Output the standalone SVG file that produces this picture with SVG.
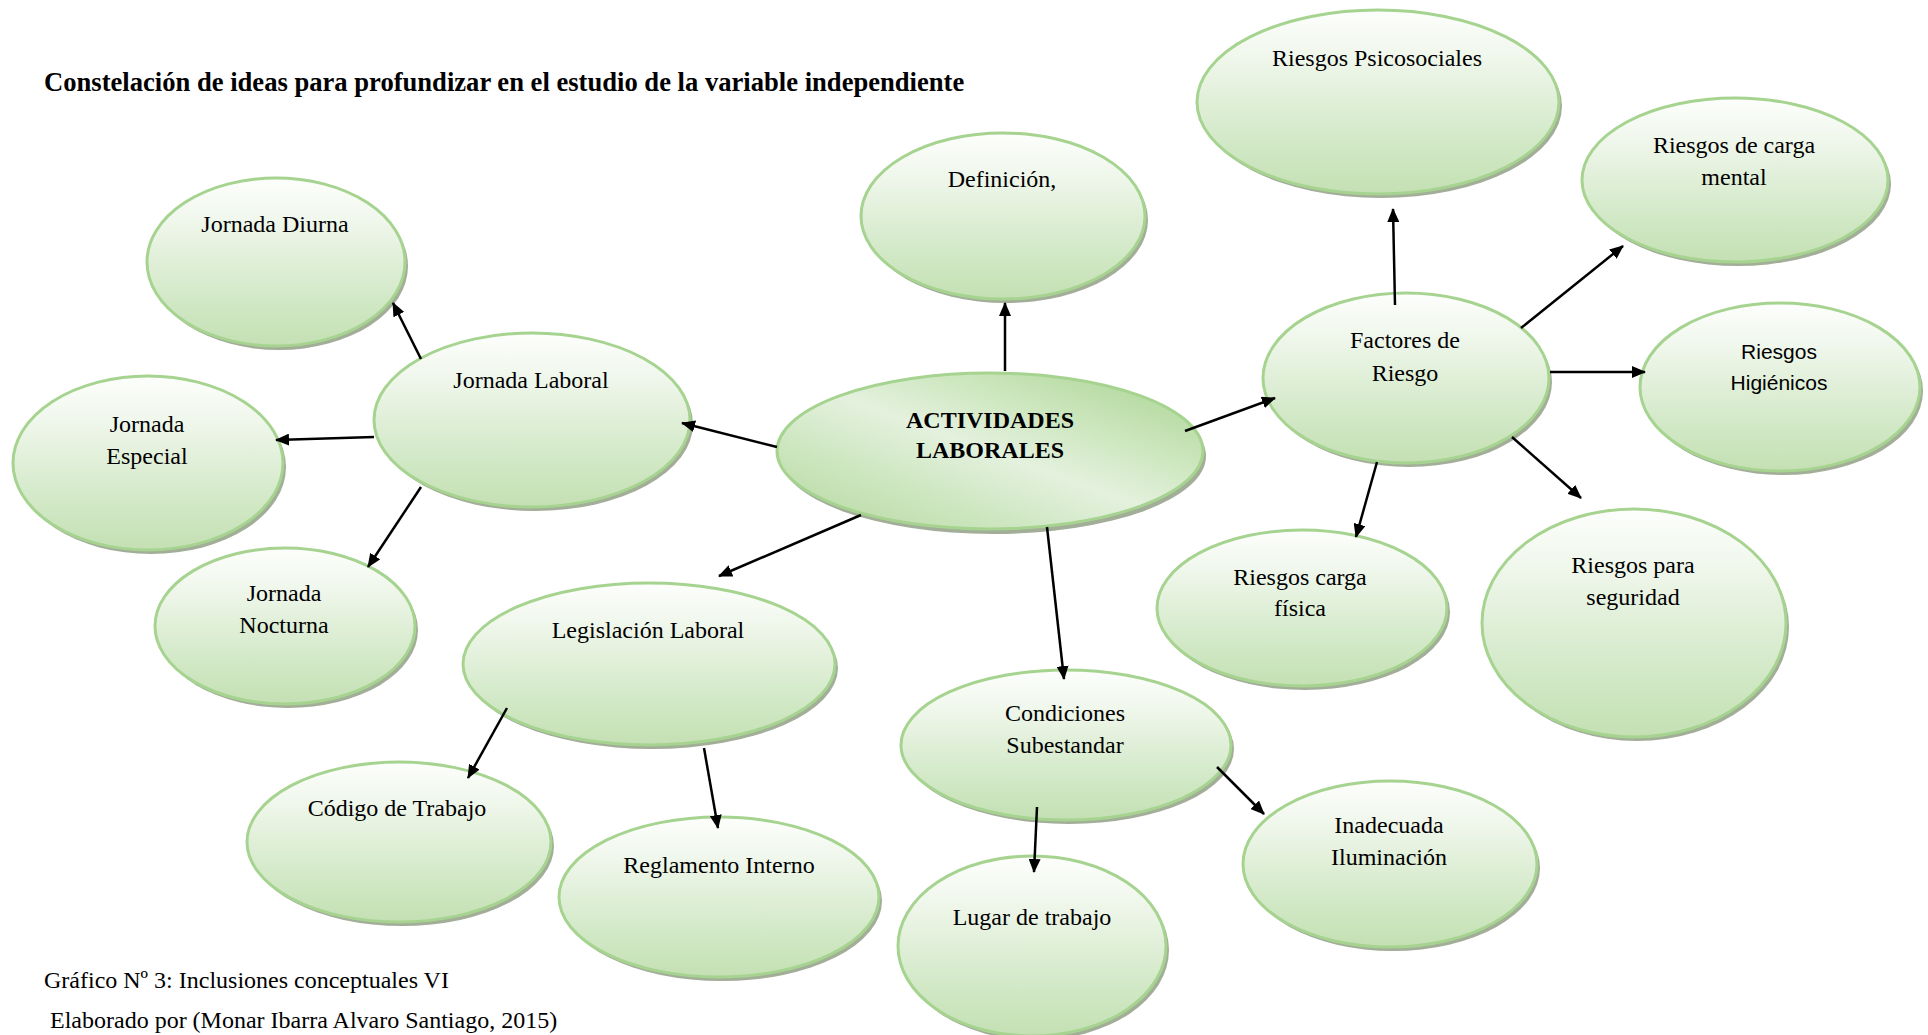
<svg xmlns="http://www.w3.org/2000/svg" width="1928" height="1035" viewBox="0 0 1928 1035">
<defs>
<linearGradient id="g" x1="0" y1="0" x2="0" y2="1">
<stop offset="0" stop-color="#fdfefc"/>
<stop offset="0.25" stop-color="#f0f7ec"/>
<stop offset="0.7" stop-color="#d3e9c8"/>
<stop offset="1" stop-color="#c4e0b3"/>
</linearGradient>
<linearGradient id="gc" x1="0" y1="1" x2="1" y2="0">
<stop offset="0" stop-color="#b3d89d"/>
<stop offset="0.3" stop-color="#cfe7c2"/>
<stop offset="0.5" stop-color="#e4f1de"/>
<stop offset="0.65" stop-color="#d2e9c5"/>
<stop offset="0.85" stop-color="#b9dca5"/>
<stop offset="1" stop-color="#c3e1b1"/>
</linearGradient>
<marker id="ah" viewBox="0 0 14 12" refX="13" refY="6" markerWidth="14" markerHeight="12" markerUnits="userSpaceOnUse" orient="auto">
<path d="M0,0 L14,6 L0,12 Z" fill="#000"/>
</marker>
</defs>
<style>
.sh{fill:#a2ae98}
.n{fill:url(#g);stroke:#a6d490;stroke-width:3}
.c{fill:url(#gc);stroke:#a6d490;stroke-width:3}
.t{font-family:"Liberation Serif","Times New Roman",serif;font-size:24px;fill:#000;text-anchor:middle}
.tb{font-family:"Liberation Serif","Times New Roman",serif;font-size:24px;font-weight:bold;fill:#000;text-anchor:middle}
.ts{font-family:"Liberation Sans Narrow","Liberation Sans",Arial,sans-serif;font-size:21px;fill:#000;text-anchor:middle}
.cap{font-family:"Liberation Serif","Times New Roman",serif;font-size:24px;fill:#000}
#conn line{stroke:#000;stroke-width:2.5;marker-end:url(#ah)}
</style>
<rect width="1928" height="1035" fill="#fff"/>
<text class="cap" x="44" y="91" font-weight="bold" style="font-size:26.6px">Constelación de ideas para profundizar en el estudio de la variable independiente</text>

<g id="n-diurna"><ellipse class="sh" cx="279" cy="266" rx="129" ry="84"/><ellipse class="n" cx="276" cy="262" rx="129" ry="84"/><text class="t" x="275" y="232">Jornada Diurna</text></g>
<g id="n-definicion"><ellipse class="sh" cx="1006" cy="220" rx="142" ry="83"/><ellipse class="n" cx="1003" cy="216" rx="142" ry="83"/><text class="t" x="1002" y="187">Definición,</text></g>
<g id="n-psico"><ellipse class="sh" cx="1381" cy="106" rx="181" ry="92"/><ellipse class="n" cx="1378" cy="102" rx="181" ry="92"/><text class="t" x="1377" y="66">Riesgos Psicosociales</text></g>
<g id="n-mental"><ellipse class="sh" cx="1738" cy="184" rx="153" ry="82"/><ellipse class="n" cx="1735" cy="180" rx="153" ry="82"/><text class="t" x="1734" y="153">Riesgos de carga</text><text class="t" x="1734" y="185">mental</text></g>
<g id="n-factores"><ellipse class="sh" cx="1409" cy="382" rx="143" ry="85"/><ellipse class="n" cx="1406" cy="378" rx="143" ry="85"/><text class="t" x="1405" y="348">Factores de</text><text class="t" x="1405" y="381">Riesgo</text></g>
<g id="n-higienicos"><ellipse class="sh" cx="1783" cy="391" rx="140" ry="84"/><ellipse class="n" cx="1780" cy="387" rx="140" ry="84"/><text class="ts" x="1779" y="359">Riesgos</text><text class="ts" x="1779" y="390">Higiénicos</text></g>
<g id="n-fisica"><ellipse class="sh" cx="1305" cy="612" rx="145" ry="78"/><ellipse class="n" cx="1302" cy="608" rx="145" ry="78"/><text class="t" x="1300" y="585">Riesgos carga</text><text class="t" x="1300" y="616">física</text></g>
<g id="n-seguridad"><ellipse class="sh" cx="1637" cy="627" rx="152" ry="114"/><ellipse class="n" cx="1634" cy="623" rx="152" ry="114"/><text class="t" x="1633" y="573">Riesgos para</text><text class="t" x="1633" y="605">seguridad</text></g>
<g id="n-center"><ellipse class="sh" cx="993" cy="456" rx="213" ry="78"/><ellipse class="c" cx="990" cy="451" rx="213" ry="78"/><text class="tb" x="990" y="428">ACTIVIDADES</text><text class="tb" x="990" y="458">LABORALES</text></g>
<g id="n-jlaboral"><ellipse class="sh" cx="535" cy="424" rx="158" ry="87"/><ellipse class="n" cx="532" cy="420" rx="158" ry="87"/><text class="t" x="531" y="388">Jornada Laboral</text></g>
<g id="n-especial"><ellipse class="sh" cx="151" cy="467" rx="135" ry="87"/><ellipse class="n" cx="148" cy="463" rx="135" ry="87"/><text class="t" x="147" y="432">Jornada</text><text class="t" x="147" y="464">Especial</text></g>
<g id="n-nocturna"><ellipse class="sh" cx="288" cy="630" rx="130" ry="78"/><ellipse class="n" cx="285" cy="626" rx="130" ry="78"/><text class="t" x="284" y="601">Jornada</text><text class="t" x="284" y="633">Nocturna</text></g>
<g id="n-legislacion"><ellipse class="sh" cx="652" cy="668" rx="186" ry="81"/><ellipse class="n" cx="649" cy="664" rx="186" ry="81"/><text class="t" x="648" y="638">Legislación Laboral</text></g>
<g id="n-codigo"><ellipse class="sh" cx="402" cy="846" rx="152" ry="80"/><ellipse class="n" cx="399" cy="842" rx="152" ry="80"/><text class="t" x="397" y="816">Código de Trabajo</text></g>
<g id="n-reglamento"><ellipse class="sh" cx="722" cy="901" rx="160" ry="80"/><ellipse class="n" cx="719" cy="897" rx="160" ry="80"/><text class="t" x="719" y="873">Reglamento Interno</text></g>
<g id="n-lugar"><ellipse class="sh" cx="1035" cy="950" rx="134" ry="90"/><ellipse class="n" cx="1032" cy="946" rx="134" ry="90"/><text class="t" x="1032" y="925">Lugar de trabajo</text></g>
<g id="n-condiciones"><ellipse class="sh" cx="1069" cy="749" rx="165" ry="75"/><ellipse class="n" cx="1066" cy="745" rx="165" ry="75"/><text class="t" x="1065" y="721">Condiciones</text><text class="t" x="1065" y="753">Subestandar</text></g>
<g id="n-iluminacion"><ellipse class="sh" cx="1393" cy="868" rx="147" ry="83"/><ellipse class="n" cx="1390" cy="864" rx="147" ry="83"/><text class="t" x="1389" y="833">Inadecuada</text><text class="t" x="1389" y="865">Iluminación</text></g>

<g id="conn">
<line x1="1005" y1="371" x2="1005" y2="303"/>
<line x1="777" y1="447" x2="682" y2="423"/>
<line x1="861" y1="515" x2="719" y2="576"/>
<line x1="1185" y1="431" x2="1275" y2="398"/>
<line x1="1047" y1="527" x2="1064" y2="679"/>
<line x1="421" y1="359" x2="393" y2="303"/>
<line x1="374" y1="437" x2="276" y2="440"/>
<line x1="421" y1="487" x2="368" y2="567"/>
<line x1="507" y1="708" x2="468" y2="778"/>
<line x1="704" y1="748" x2="718" y2="828"/>
<line x1="1037" y1="807" x2="1034" y2="872"/>
<line x1="1217" y1="767" x2="1264" y2="814"/>
<line x1="1395" y1="305" x2="1393" y2="209"/>
<line x1="1521" y1="328" x2="1623" y2="246"/>
<line x1="1550" y1="372" x2="1645" y2="372"/>
<line x1="1377" y1="462" x2="1356" y2="537"/>
<line x1="1512" y1="437" x2="1581" y2="498"/>
</g>

<text class="cap" x="44" y="988">Gráfico Nº 3: Inclusiones conceptuales VI</text>
<text class="cap" x="50" y="1028">Elaborado por (Monar Ibarra Alvaro Santiago, 2015)</text>
</svg>
